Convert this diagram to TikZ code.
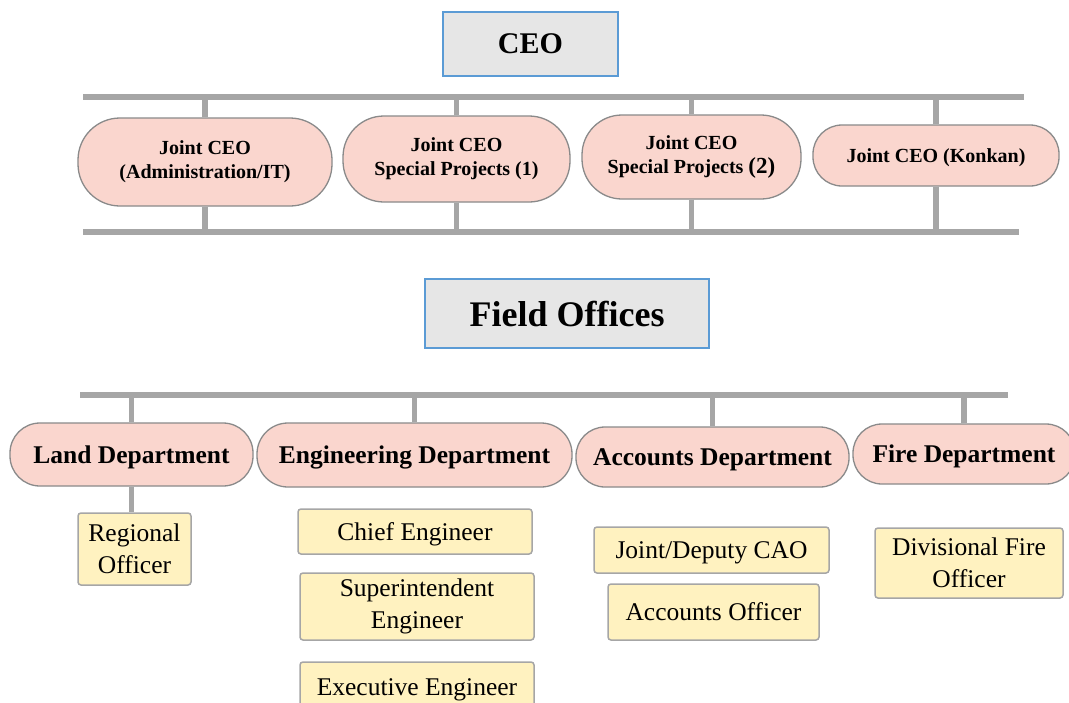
\documentclass[tikz,border=0pt]{standalone}
\usepackage{fontspec}
\setmainfont{Liberation Serif}
\usetikzlibrary{backgrounds}
\definecolor{boxblue}{HTML}{5B9BD5}
\definecolor{boxgray}{HTML}{E6E6E6}
\definecolor{barg}{HTML}{A6A6A6}
\definecolor{pinkf}{HTML}{FAD6CE}
\definecolor{pinkd}{HTML}{8A8A8A}
\definecolor{yelf}{HTML}{FFF2C0}
\definecolor{yeld}{HTML}{A6A6A6}
\begin{document}
\begin{tikzpicture}[x=1pt,y=-1pt,
 headbox/.style={draw=boxblue, line width=2pt, fill=boxgray, inner sep=0pt, text depth=0pt},
 pill/.style={draw=pinkd, line width=1.3pt, fill=pinkf, inner sep=0pt, align=center, font=\fontsize{20}{24}\selectfont\bfseries},
 dept/.style={pill, text depth=0pt, font=\fontsize{25.5}{30}\selectfont\bfseries},
 post/.style={draw=yeld, line width=1.5pt, fill=yelf, rounded corners=3pt, inner sep=0pt, align=center, font=\fontsize{25.5}{32.5}\selectfont},
 bar/.style={draw=barg, line width=6pt},
 stub/.style={draw=barg, line width=5.5pt}]
\useasboundingbox (0,0) rectangle (1069,702);

% heads
\node[headbox, minimum width=175pt, minimum height=64pt, font=\fontsize{30}{30}\selectfont\bfseries] (ceo) at (530.5,44) {CEO};
\node[headbox, minimum width=284pt, minimum height=69pt, font=\fontsize{36}{36}\selectfont\bfseries] (field) at (567,313.5) {Field Offices};

% joint CEOs
\node[pill, minimum width=254pt, minimum height=88pt, rounded corners=42pt] (j1) at (205,162) {Joint CEO\\(Administration/IT)};
\node[pill, minimum width=227pt, minimum height=86pt, rounded corners=41pt] (j2) at (456.5,159) {Joint CEO\\Special Projects (1)};
\node[pill, minimum width=219pt, minimum height=84pt, rounded corners=40pt] (j3) at (691.5,157) {Joint CEO\\Special Projects {\fontsize{23}{24}\selectfont(2)}};
\node[pill, minimum width=246pt, minimum height=61pt, rounded corners=29pt, text depth=0pt] (j4) at (936,155.5) {Joint CEO (Konkan)};

% departments
\node[dept, minimum width=243pt, minimum height=63pt, rounded corners=30pt] (land) at (131.5,454.5) {Land Department};
\node[dept, minimum width=315pt, minimum height=64pt, rounded corners=31pt] (eng) at (414.5,455) {Engineering Department};
\node[dept, minimum width=273pt, minimum height=60pt, rounded corners=29pt] (acc) at (712.5,457) {Accounts Department};
\node[dept, minimum width=222pt, minimum height=60pt, rounded corners=29pt] (fire) at (964,454) {Fire Department};

% posts
\node[post, minimum width=113pt, minimum height=72pt] (reg) at (134.5,549) {Regional\\Officer};
\node[post, minimum width=234pt, minimum height=45pt, text depth=0pt] (chief) at (415,531.5) {Chief Engineer};
\node[post, minimum width=234pt, minimum height=67pt] (sup) at (417,606.5) {Superintendent\\Engineer};
\node[post, minimum width=234pt, minimum height=50pt, text depth=0pt] (exe) at (417,687) {Executive Engineer};
\node[post, minimum width=235pt, minimum height=46pt, text depth=0pt] (jcao) at (711.5,550) {Joint/Deputy CAO};
\node[post, minimum width=211pt, minimum height=56pt, text depth=0pt] (acco) at (713.5,612) {Accounts Officer};
\node[post, minimum width=188pt, minimum height=70pt] (dfo) at (969,563) {Divisional Fire\\Officer};

% bar coordinates
\coordinate (b1l) at (83,97);   \coordinate (b1r) at (1024,97);
\coordinate (b2l) at (83,232);  \coordinate (b2r) at (1019,232);
\coordinate (b3l) at (80,395);  \coordinate (b3r) at (1008,395);

\begin{pgfonlayer}{background}
\fill[white] (0,0) rectangle (1069,702);
\draw[bar] (b1l) -- (b1r);
\draw[bar] (b2l) -- (b2r);
\draw[bar] (b3l) -- (b3r);
\foreach \n in {j1,j2,j3,j4}{
  \draw[stub] (\n.north) -- (\n.north |- b1l);
  \draw[stub] (\n.south) -- (\n.south |- b2l);
}
\foreach \n in {land,eng,acc,fire}{
  \draw[stub] (\n.north) -- (\n.north |- b3l);
}
\draw[stub] (land.south) -- (land.south |- reg.north);
\end{pgfonlayer}
\end{tikzpicture}
\end{document}
